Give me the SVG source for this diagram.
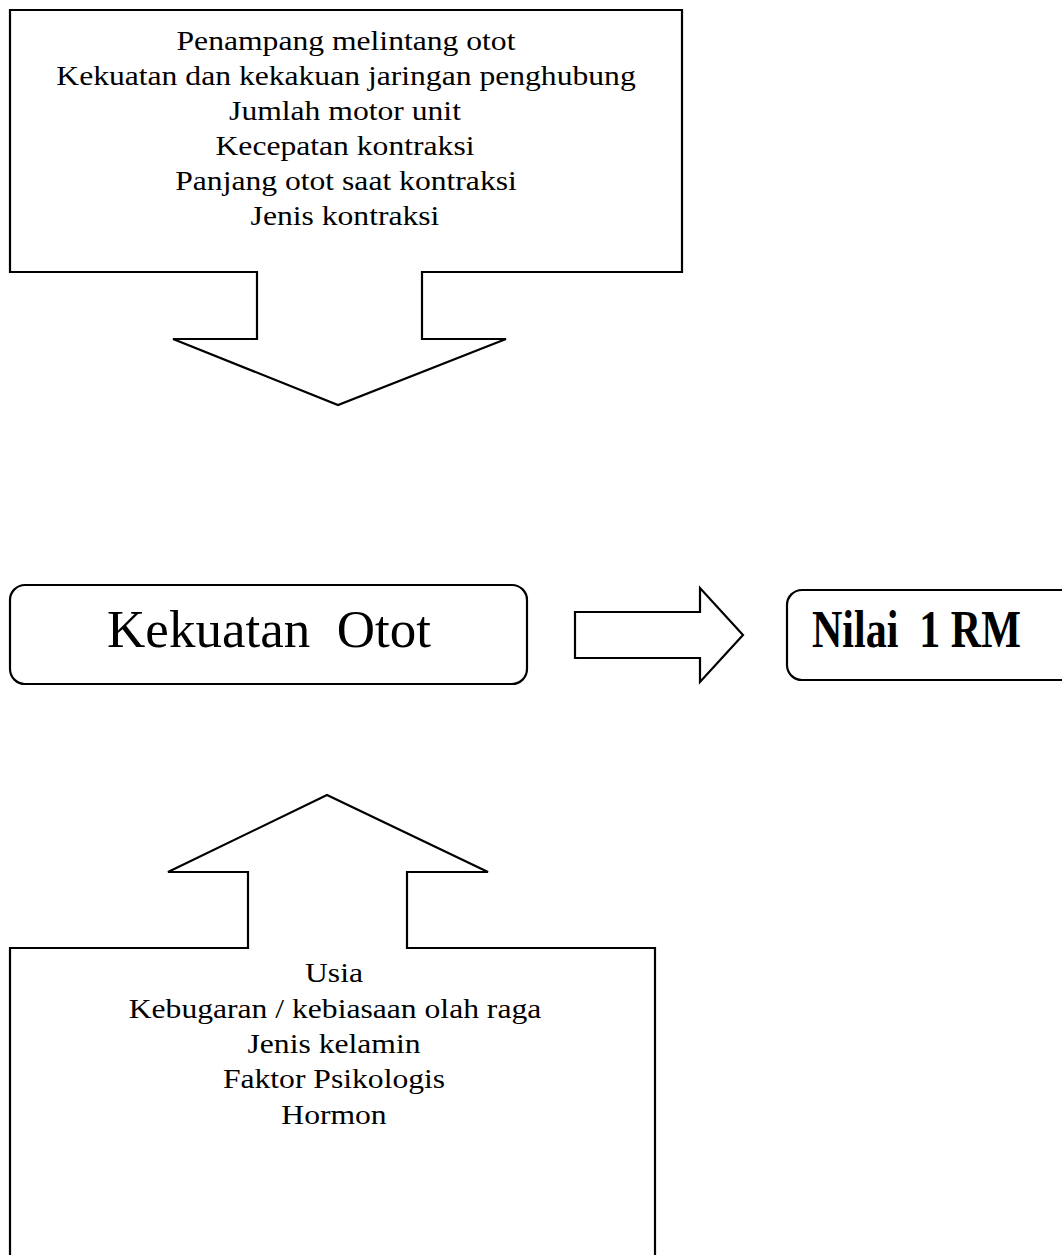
<svg xmlns="http://www.w3.org/2000/svg" width="1062" height="1255" viewBox="0 0 1062 1255">
<style>
.sh{fill:#fff;stroke:#000;stroke-width:2.2;stroke-linejoin:miter}
.t{font-family:"Liberation Serif","Times New Roman",serif;font-size:27.5px;fill:#000;text-anchor:middle}
.big{font-family:"Liberation Serif","Times New Roman",serif;font-size:53px;fill:#000;text-anchor:middle}
.b{font-family:"Liberation Serif","Times New Roman",serif;font-size:42px;font-weight:bold;fill:#000}
</style>
<rect width="1062" height="1255" fill="#fff"/>
<g id="top-factors">
<path class="sh" d="M10,10 H682 V272 H422 V339 H506 L338,405 L173,339 H257 V272 H10 Z"/>
<text class="t" transform="translate(346,50) scale(1.15,1)">Penampang melintang otot</text>
<text class="t" transform="translate(346,85) scale(1.15,1)">Kekuatan dan kekakuan jaringan penghubung</text>
<text class="t" transform="translate(345,120) scale(1.15,1)">Jumlah motor unit</text>
<text class="t" transform="translate(345,155) scale(1.15,1)">Kecepatan kontraksi</text>
<text class="t" transform="translate(346,190) scale(1.15,1)">Panjang otot saat kontraksi</text>
<text class="t" transform="translate(345,225) scale(1.15,1)">Jenis kontraksi</text>
</g>
<g id="kekuatan-otot">
<rect class="sh" x="10" y="585" width="517" height="99" rx="15"/>
<text class="big" x="269" y="647" xml:space="preserve">Kekuatan  Otot</text>
</g>
<g id="connectors">
<path class="sh" d="M575,612 H700 V588 L743,635 L700,682 V658 H575 Z"/>
</g>
<g id="nilai-1rm">
<rect class="sh" x="787" y="590" width="295" height="90" rx="15"/>
<text class="b" transform="translate(812,647) scale(1,1.25)" xml:space="preserve">Nilai  1 RM</text>
</g>
<g id="bottom-factors">
<path class="sh" d="M10,1265 V948 H248 V872 H168 L327,795 L488,872 H407 V948 H655 V1265"/>
<text class="t" transform="translate(334,982) scale(1.15,1)">Usia</text>
<text class="t" transform="translate(335,1018) scale(1.15,1)">Kebugaran / kebiasaan olah raga</text>
<text class="t" transform="translate(334,1053) scale(1.15,1)">Jenis kelamin</text>
<text class="t" transform="translate(334,1088) scale(1.15,1)">Faktor Psikologis</text>
<text class="t" transform="translate(334,1124) scale(1.15,1)">Hormon</text>
</g>
</svg>
